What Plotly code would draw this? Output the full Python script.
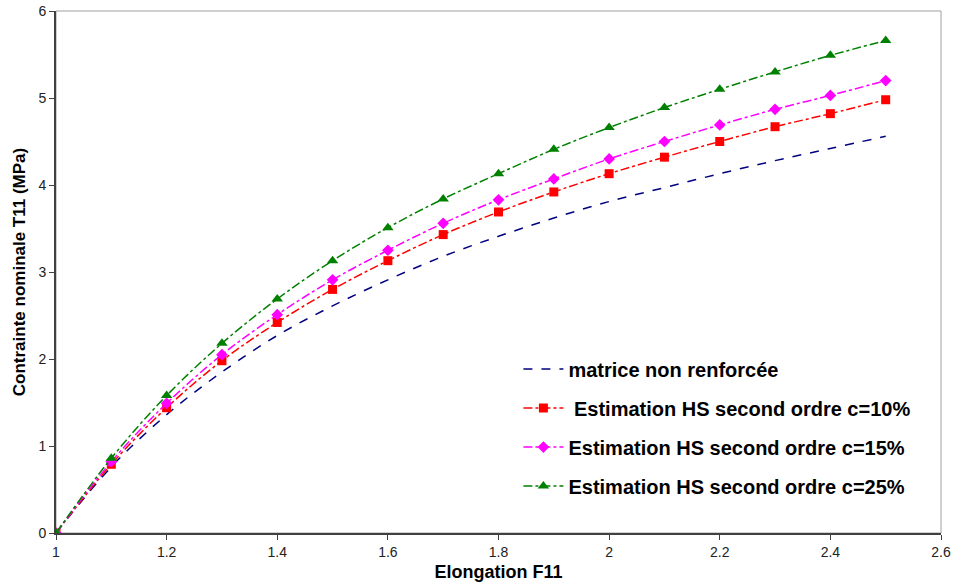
import plotly.graph_objects as go

# elongation F11
x = [1.0, 1.1, 1.2, 1.3, 1.4, 1.5, 1.6, 1.7, 1.8, 1.9, 2.0, 2.1, 2.2, 2.3, 2.4, 2.5]

# nominal stress T11 (MPa)
matrice = [0, 0.76, 1.36, 1.85, 2.27, 2.61, 2.91, 3.18, 3.41, 3.62, 3.81, 3.97, 4.13, 4.28, 4.42, 4.56]
hs_c10 = [0, 0.79, 1.44, 1.98, 2.42, 2.80, 3.13, 3.43, 3.69, 3.92, 4.13, 4.32, 4.50, 4.67, 4.82, 4.98]
hs_c15 = [0, 0.82, 1.49, 2.05, 2.51, 2.91, 3.25, 3.56, 3.83, 4.07, 4.30, 4.50, 4.69, 4.87, 5.03, 5.20]
hs_c25 = [0, 0.86, 1.58, 2.18, 2.69, 3.13, 3.51, 3.84, 4.13, 4.41, 4.66, 4.89, 5.10, 5.30, 5.49, 5.66]

names = ["matrice non renforcée",
         " Estimation HS second ordre c=10%",
         "Estimation HS second ordre c=15%",
         "Estimation HS second ordre c=25%"]

fig = go.Figure()
fig.add_trace(go.Scatter(x=x, y=matrice, name="<b>" + names[0] + "</b>", mode="lines",
                         line=dict(color="#000080", dash="dash", width=1.5, shape="spline"),
                         legendgroup="a"))
fig.add_trace(go.Scatter(x=x, y=hs_c10, name="<b>" + names[1] + "</b>", mode="lines+markers",
                         line=dict(color="#FF0000", dash="dashdot", width=1.5, shape="spline"),
                         marker=dict(symbol="square", size=9, color="#FF0000"),
                         legendgroup="b"))
fig.add_trace(go.Scatter(x=x, y=hs_c15, name="<b>" + names[2] + "</b>", mode="lines+markers",
                         line=dict(color="#FF00FF", dash="dashdot", width=1.5, shape="spline"),
                         marker=dict(symbol="diamond", size=9, color="#FF00FF"),
                         legendgroup="c"))
fig.add_trace(go.Scatter(x=x, y=hs_c25, name="<b>" + names[3] + "</b>", mode="lines+markers",
                         line=dict(color="#008000", dash="dashdot", width=1.5, shape="spline"),
                         marker=dict(symbol="triangle-up", size=10, color="#008000"),
                         legendgroup="d"))

# light frame on top/right
fig.add_shape(type="rect", xref="paper", yref="paper", x0=0, y0=0, x1=1, y1=1,
              line=dict(color="#a0a0a0", width=1), layer="below")

axis_font = dict(family="Liberation Sans, Arial, sans-serif", size=14, color="#222")
fig.update_layout(
    width=954, height=585,
    margin=dict(l=56, r=13, t=11, b=52),
    plot_bgcolor="white", paper_bgcolor="white",
    showlegend=True,
    legend=dict(x=0.5225, y=0.202, xanchor="left", yanchor="middle",
                bgcolor="rgba(0,0,0,0)", tracegroupgap=10, itemwidth=40,
                font=dict(family="Liberation Sans, Arial, sans-serif", size=20, color="black")),
    xaxis=dict(range=[1, 2.6], dtick=0.2, tick0=1, showgrid=False, zeroline=False,
               automargin=False,
               showline=True, linecolor="#404040", linewidth=2,
               ticks="outside", ticklen=5, tickcolor="#404040", tickfont=axis_font,
               title=dict(text="<b>Elongation F11</b>", standoff=7,
                          font=dict(family="Liberation Sans, Arial, sans-serif",
                                    size=18, color="black"))),
    yaxis=dict(range=[0, 6], dtick=1, showgrid=False, zeroline=False,
               automargin=False,
               showline=True, linecolor="#404040", linewidth=2,
               ticks="outside", ticklen=5, tickcolor="#404040", tickfont=axis_font,
               title=dict(text="<b>Contrainte nominale T11 (MPa)</b>", standoff=8,
                          font=dict(family="Liberation Sans, Arial, sans-serif", size=17, color="black"))),
)

# drop the browser's default body margin so the figure fills the window
fig.write_html("out.html", config={"displayModeBar": False},
               post_script="document.body.style.margin='0';")
